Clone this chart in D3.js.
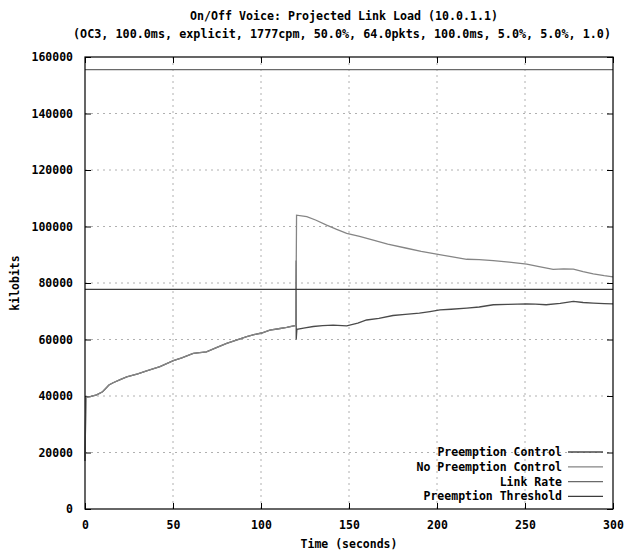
<!DOCTYPE html>
<html><head><meta charset="utf-8">
<script src="https://cdn.jsdelivr.net/npm/d3@7"></script>
<style>
html,body{margin:0;padding:0;background:#fff;}
text{font-family:"DejaVu Sans Mono","Liberation Mono",monospace;font-weight:bold;fill:#000;}
</style></head>
<body>
<svg id="chart" width="627" height="554"></svg>
<script>
const titleLines = ["On/Off Voice: Projected Link Load (10.0.1.1)",
  "(OC3, 100.0ms, explicit, 1777cpm, 50.0%, 64.0pkts, 100.0ms, 5.0%, 5.0%, 1.0)"];
const xLabel = "Time (seconds)";
const yLabel = "kilobits";
const xTicks = [0, 50, 100, 150, 200, 250, 300];
const yTicks = [0, 20000, 40000, 60000, 80000, 100000, 120000, 140000, 160000];
const seriesNames = ["Preemption Control", "No Preemption Control", "Link Rate", "Preemption Threshold"];

// shared ramp before t=120
const rampT = [0, 0.5, 3, 6.6, 10, 13.6, 16, 20, 23.7, 30, 35, 42.6, 50.2, 55, 61.5, 69, 75, 80.5, 86, 91.9, 96, 100.4, 105, 110, 114.6, 119.8];
const rampV = [17000, 39500, 39800, 40400, 41500, 43900, 44700, 45800, 46800, 47800, 48900, 50400, 52500, 53500, 55100, 55600, 57200, 58600, 59800, 61000, 61700, 62300, 63300, 63800, 64300, 65000];

const pcT = [120, 120, 120.4, 125, 129.7, 135, 141, 148.7, 155, 160, 167, 175, 182, 190, 196, 201.7, 208, 216.9, 224, 232, 240, 251, 256, 262, 270, 277.5, 283, 288.8, 295, 300];
const pcV = [88000, 60000, 63600, 64100, 64600, 64900, 65100, 64800, 65800, 66900, 67500, 68500, 68900, 69300, 69900, 70500, 70700, 71100, 71500, 72300, 72400, 72600, 72500, 72300, 72800, 73500, 73100, 72900, 72700, 72600];

const npT = [120.2, 126, 131, 137.3, 143, 148.7, 156, 163.8, 172, 182.8, 191, 199.8, 208, 216.9, 224, 232, 241, 251, 258, 266, 272, 277.5, 283, 288.8, 295, 300];
const npV = [104000, 103500, 102300, 100500, 99000, 97600, 96500, 95200, 93800, 92300, 91200, 90200, 89300, 88400, 88300, 87900, 87400, 86700, 85800, 84800, 85000, 84900, 84000, 83200, 82600, 82200];

const linkRate = 155520;
const threshold = 77760;

const colors = ["#4a4a4a", "#858585", "#6a6a6a", "#3c3c3c"];

const W = 627, H = 554;
const m = {left: 85, right: 14, top: 57, bottom: 45};
const svg = d3.select("#chart");
const x = d3.scaleLinear().domain([0, 300]).range([m.left, W - m.right]);
const y = d3.scaleLinear().domain([0, 160000]).range([H - m.bottom, m.top]);
const x0 = m.left, x1 = W - m.right, y0 = H - m.bottom, y1 = m.top;

// grid
const g = svg.append("g");
g.selectAll(".gx").data(xTicks.filter(t => t > 0 && t < 300)).join("line")
  .attr("x1", d => x(d)).attr("x2", d => x(d)).attr("y1", y0).attr("y2", y1)
  .attr("stroke", "#b0b0b0").attr("stroke-width", 1).attr("stroke-dasharray", "2,4");
g.selectAll(".gy").data(yTicks.filter(t => t > 0 && t < 160000)).join("line")
  .attr("x1", x0).attr("x2", x1).attr("y1", d => y(d)).attr("y2", d => y(d))
  .attr("stroke", "#b0b0b0").attr("stroke-width", 1).attr("stroke-dasharray", "2,4");

// axes (ticks inward, mirrored)
const tickLen = 6;
const axB = svg.append("g").attr("transform", `translate(0,${y0})`)
  .call(d3.axisBottom(x).tickValues(xTicks).tickSize(-tickLen).tickPadding(10).tickFormat(d3.format("d")));
const axT = svg.append("g").attr("transform", `translate(0,${y1})`)
  .call(d3.axisTop(x).tickValues(xTicks).tickSize(-tickLen).tickFormat(""));
const axL = svg.append("g").attr("transform", `translate(${x0},0)`)
  .call(d3.axisLeft(y).tickValues(yTicks).tickSize(-tickLen).tickPadding(12).tickFormat(d3.format("d")));
const axR = svg.append("g").attr("transform", `translate(${x1},0)`)
  .call(d3.axisRight(y).tickValues(yTicks).tickSize(-tickLen).tickFormat(""));
[axB, axT, axL, axR].forEach(a => {
  a.select(".domain").remove();
  a.selectAll("line").attr("stroke", "#000");
  a.selectAll("text").attr("font-size", 11.5).attr("font-family", null).attr("fill", "#000");
});
axB.selectAll("text").attr("dy", "0.9em");

// data lines
const line = d3.line().x(d => x(d[0])).y(d => y(d[1]));
const ramp = rampT.map((t, i) => [t, rampV[i]]);
const pcData = ramp.concat(pcT.map((t, i) => [t, pcV[i]]));
const npData = ramp.concat(npT.map((t, i) => [t, npV[i]]));
const plot = svg.append("g");
plot.append("path").datum(pcData).attr("d", line).attr("fill", "none")
  .attr("stroke", colors[0]).attr("stroke-width", 1.3);
plot.append("path").datum(npData).attr("d", line).attr("fill", "none")
  .attr("stroke", colors[1]).attr("stroke-width", 1.3);
plot.append("path").datum([[0, linkRate], [300, linkRate]]).attr("d", line).attr("fill", "none")
  .attr("stroke", colors[2]).attr("stroke-width", 1.3);
plot.append("path").datum([[0, threshold], [300, threshold]]).attr("d", line).attr("fill", "none")
  .attr("stroke", colors[3]).attr("stroke-width", 1.3);

// border
svg.append("rect").attr("x", x0).attr("y", y1).attr("width", x1 - x0).attr("height", y0 - y1)
  .attr("fill", "none").attr("stroke", "#000").attr("stroke-width", 1.2);

// titles
svg.append("text").attr("x", 344).attr("y", 20).attr("text-anchor", "middle")
  .attr("font-size", 11.5).attr("textLength", 308).attr("lengthAdjust", "spacingAndGlyphs").text(titleLines[0]);
svg.append("text").attr("x", 342).attr("y", 38).attr("text-anchor", "middle")
  .attr("font-size", 11.5).attr("textLength", 538).attr("lengthAdjust", "spacingAndGlyphs").text(titleLines[1]);
svg.append("text").attr("x", (x0 + x1) / 2).attr("y", 548).attr("text-anchor", "middle")
  .attr("font-size", 11.5).text(xLabel);
svg.append("text").attr("transform", `translate(19,${(y0 + y1) / 2}) rotate(-90)`)
  .attr("text-anchor", "middle").attr("font-size", 11.5).text(yLabel);

// legend
const lg = svg.append("g");
seriesNames.forEach((name, i) => {
  const ly = 452 + i * 14.8;
  lg.append("text").attr("x", 562).attr("y", ly).attr("dy", "0.35em").attr("text-anchor", "end")
    .attr("font-size", 11.5).text(name);
  lg.append("line").attr("x1", 568).attr("x2", 603).attr("y1", ly).attr("y2", ly)
    .attr("stroke", colors[i]).attr("stroke-width", 1.3);
});
</script>
</body></html>
